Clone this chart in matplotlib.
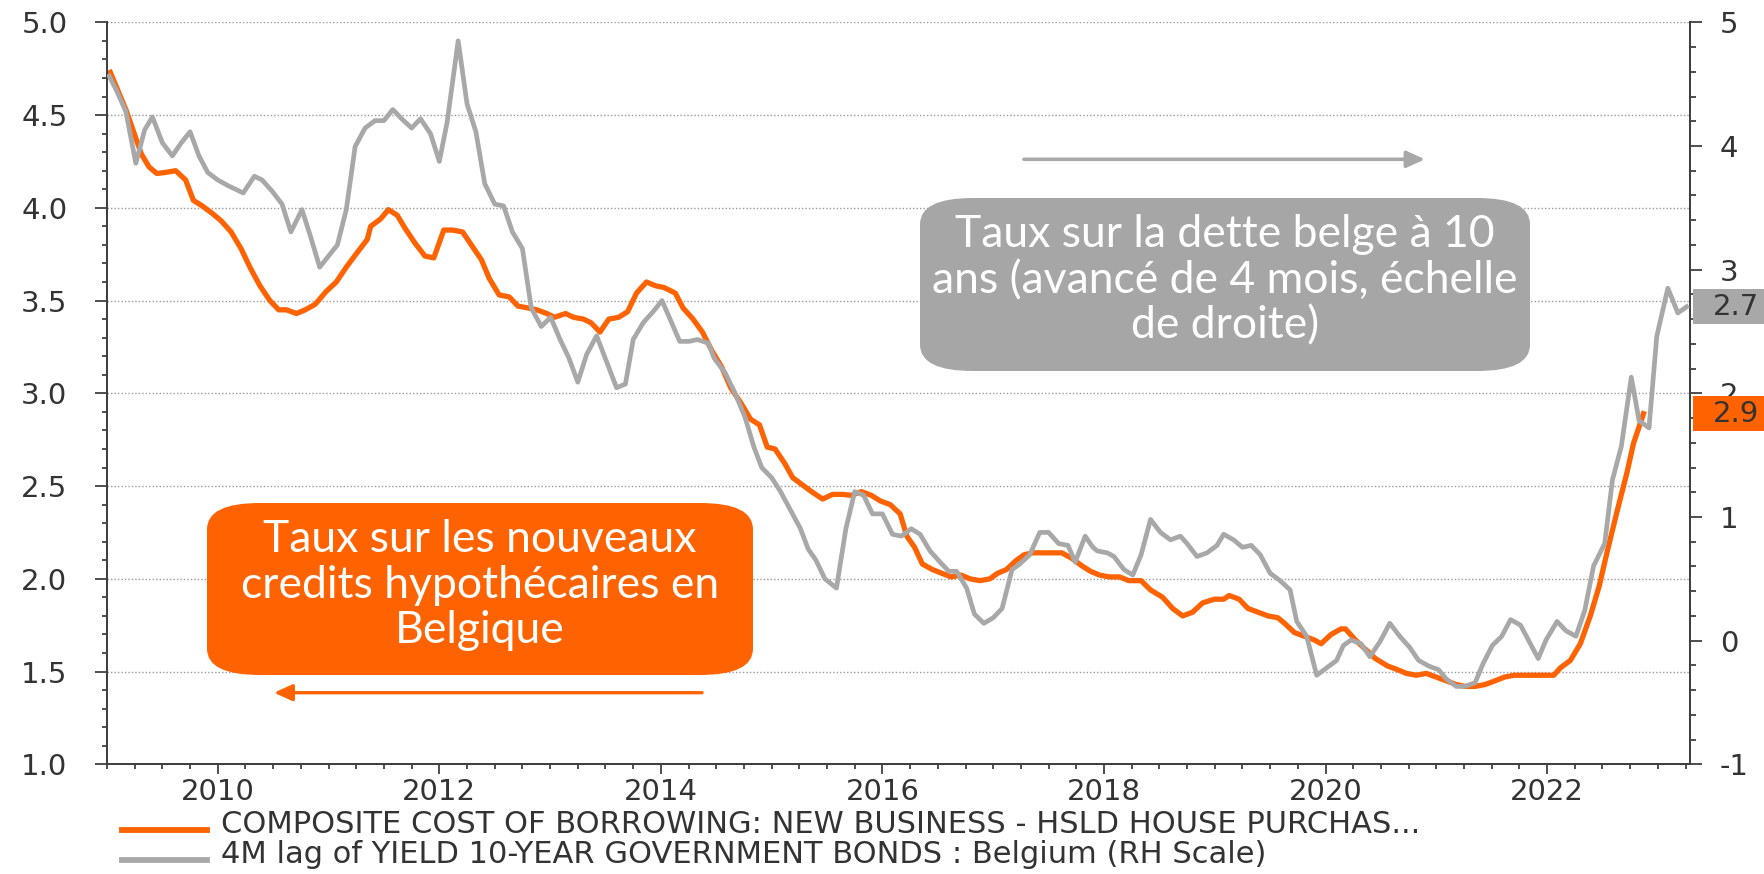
import matplotlib
matplotlib.use('Agg')
import matplotlib.pyplot as plt
import matplotlib.transforms as mtransforms
from matplotlib.patches import FancyBboxPatch, FancyArrowPatch, Rectangle
from matplotlib.lines import Line2D
from matplotlib.ticker import MultipleLocator, FormatStrFormatter

plt.rcParams['axes.unicode_minus'] = False
plt.rcParams['font.family'] = ['DejaVu Sans']

ORANGE = '#FF6200'
GRAY = '#A8A8A8'
TXT = '#333333'
AXC = '#404040'

# mortgage rate, new business (left scale), decimal years
orange_t = [2009.03, 2009.17, 2009.31, 2009.38, 2009.45, 2009.52, 2009.62, 2009.71, 2009.78, 2009.86,
            2009.95, 2010.03, 2010.12, 2010.21, 2010.29, 2010.38, 2010.47, 2010.55, 2010.62, 2010.71,
            2010.79, 2010.88, 2010.98, 2011.07, 2011.16, 2011.26, 2011.35, 2011.38, 2011.47, 2011.54,
            2011.62, 2011.69, 2011.78, 2011.87, 2011.95, 2012.04, 2012.12, 2012.21, 2012.30, 2012.38,
            2012.45, 2012.54, 2012.63, 2012.71, 2012.80, 2012.88, 2012.97, 2013.04, 2013.14, 2013.21,
            2013.30, 2013.37, 2013.45, 2013.53, 2013.62, 2013.70, 2013.78, 2013.87, 2013.95, 2014.03,
            2014.13, 2014.20, 2014.29, 2014.375, 2014.46, 2014.55, 2014.63, 2014.72, 2014.81, 2014.89,
            2014.96, 2015.03, 2015.12, 2015.19, 2015.27, 2015.36, 2015.46, 2015.55, 2015.64, 2015.72,
            2015.81, 2015.90, 2015.98, 2016.07, 2016.16, 2016.22, 2016.29, 2016.36, 2016.45, 2016.535,
            2016.62, 2016.71, 2016.79, 2016.88, 2016.97, 2017.04, 2017.12, 2017.21, 2017.28, 2017.36,
            2017.45, 2017.54, 2017.62, 2017.71, 2017.80, 2017.88, 2017.96, 2018.05, 2018.14, 2018.225,
            2018.335, 2018.42, 2018.53, 2018.62, 2018.71, 2018.80, 2018.89, 2018.995, 2019.08, 2019.13,
            2019.22, 2019.30, 2019.39, 2019.48, 2019.57, 2019.63, 2019.72, 2019.81, 2019.90, 2019.96,
            2020.05, 2020.14, 2020.18, 2020.27, 2020.36, 2020.45, 2020.56, 2020.65, 2020.73, 2020.82,
            2020.91, 2021.00, 2021.09, 2021.18, 2021.26, 2021.35, 2021.44, 2021.53, 2021.615, 2021.70,
            2021.79, 2021.88, 2021.97, 2022.06, 2022.12, 2022.21, 2022.30, 2022.39, 2022.47, 2022.54,
            2022.63, 2022.72, 2022.78, 2022.87]
orange_v = [4.73, 4.53, 4.29, 4.22, 4.185, 4.19, 4.20, 4.15, 4.04, 4.01,
            3.97, 3.93, 3.87, 3.78, 3.68, 3.58, 3.50, 3.45, 3.45, 3.43,
            3.45, 3.48, 3.55, 3.60, 3.68, 3.76, 3.83, 3.90, 3.94, 3.99,
            3.96, 3.89, 3.81, 3.74, 3.73, 3.88, 3.88, 3.87, 3.79, 3.72,
            3.62, 3.53, 3.52, 3.47, 3.46, 3.45, 3.43, 3.41, 3.43, 3.41,
            3.40, 3.38, 3.33, 3.40, 3.41, 3.44, 3.54, 3.60, 3.58, 3.57,
            3.54, 3.46, 3.40, 3.33, 3.23, 3.14, 3.03, 2.95, 2.86, 2.83,
            2.71, 2.70, 2.62, 2.545, 2.51, 2.47, 2.43, 2.455, 2.455, 2.45,
            2.47, 2.45, 2.42, 2.40, 2.35, 2.23, 2.17, 2.08, 2.05, 2.03,
            2.01, 2.02, 2.00, 1.99, 2.00, 2.03, 2.05, 2.10, 2.13, 2.14,
            2.14, 2.14, 2.14, 2.11, 2.07, 2.04, 2.02, 2.01, 2.01, 1.99,
            1.99, 1.94, 1.90, 1.84, 1.80, 1.82, 1.87, 1.89, 1.89, 1.91,
            1.89, 1.84, 1.82, 1.80, 1.79, 1.76, 1.71, 1.69, 1.67, 1.65,
            1.70, 1.73, 1.73, 1.67, 1.62, 1.57, 1.53, 1.51, 1.49, 1.48,
            1.49, 1.47, 1.45, 1.43, 1.42, 1.42, 1.43, 1.45, 1.47, 1.48,
            1.48, 1.48, 1.48, 1.48, 1.52, 1.56, 1.65, 1.80, 1.96, 2.14,
            2.36, 2.57, 2.73, 2.89]

# 10y Belgian yield, 4 months lead (right scale)
gray_t = [2009.02, 2009.08, 2009.17, 2009.26, 2009.34, 2009.41, 2009.50, 2009.59, 2009.67, 2009.75,
          2009.83, 2009.91, 2010.00, 2010.09, 2010.16, 2010.23, 2010.33, 2010.40, 2010.49, 2010.58,
          2010.66, 2010.76, 2010.84, 2010.92, 2011.00, 2011.08, 2011.16, 2011.24, 2011.33, 2011.42,
          2011.50, 2011.58, 2011.66, 2011.75, 2011.83, 2011.92, 2012.00, 2012.07, 2012.17, 2012.25,
          2012.33, 2012.41, 2012.50, 2012.58, 2012.66, 2012.75, 2012.83, 2012.92, 2013.005, 2013.09,
          2013.17, 2013.25, 2013.33, 2013.42, 2013.51, 2013.60, 2013.68, 2013.75, 2013.84, 2013.93,
          2014.01, 2014.09, 2014.17, 2014.255, 2014.33, 2014.43, 2014.48, 2014.58, 2014.67, 2014.76,
          2014.84, 2014.91, 2015.00, 2015.08, 2015.17, 2015.26, 2015.33, 2015.40, 2015.48, 2015.585,
          2015.67, 2015.75, 2015.83, 2015.91, 2016.00, 2016.09, 2016.17, 2016.26, 2016.34, 2016.43,
          2016.52, 2016.60, 2016.67, 2016.76, 2016.83, 2016.915, 2017.00, 2017.08, 2017.17, 2017.24,
          2017.33, 2017.42, 2017.50, 2017.59, 2017.675, 2017.74, 2017.83, 2017.90, 2017.94, 2018.03,
          2018.09, 2018.18, 2018.26, 2018.335, 2018.42, 2018.51, 2018.60, 2018.69, 2018.75, 2018.84,
          2018.93, 2019.02, 2019.08, 2019.17, 2019.25, 2019.33, 2019.41, 2019.50, 2019.59, 2019.68,
          2019.74, 2019.83, 2019.92, 2020.01, 2020.10, 2020.16, 2020.23, 2020.32, 2020.40, 2020.49,
          2020.58, 2020.67, 2020.76, 2020.84, 2020.93, 2021.02, 2021.09, 2021.18, 2021.26, 2021.35,
          2021.42, 2021.505, 2021.59, 2021.67, 2021.76, 2021.84, 2021.92, 2021.99, 2022.09, 2022.17,
          2022.26, 2022.34, 2022.42, 2022.52, 2022.59, 2022.67, 2022.76, 2022.83, 2022.92, 2022.99,
          2023.09, 2023.18, 2023.26]
gray_v = [4.565, 4.46, 4.28, 3.86, 4.13, 4.235, 4.025, 3.92, 4.025, 4.115,
          3.92, 3.785, 3.725, 3.68, 3.65, 3.62, 3.755, 3.725, 3.635, 3.53,
          3.305, 3.485, 3.26, 3.02, 3.11, 3.20, 3.485, 3.995, 4.145, 4.205,
          4.205, 4.295, 4.22, 4.145, 4.22, 4.10, 3.875, 4.19, 4.85, 4.34,
          4.115, 3.695, 3.53, 3.515, 3.305, 3.17, 2.69, 2.54, 2.615, 2.435,
          2.285, 2.09, 2.315, 2.465, 2.255, 2.045, 2.075, 2.435, 2.57, 2.66,
          2.75, 2.585, 2.42, 2.42, 2.435, 2.405, 2.285, 2.165, 2.00, 1.805,
          1.565, 1.40, 1.3175, 1.205, 1.055, 0.905, 0.74, 0.65, 0.50, 0.425,
          0.905, 1.205, 1.175, 1.025, 1.025, 0.86, 0.845, 0.905, 0.86, 0.725,
          0.635, 0.56, 0.56, 0.425, 0.215, 0.14, 0.185, 0.26, 0.575, 0.62,
          0.695, 0.875, 0.875, 0.785, 0.77, 0.635, 0.845, 0.755, 0.725, 0.71,
          0.68, 0.575, 0.53, 0.695, 0.98, 0.875, 0.815, 0.845, 0.785, 0.68,
          0.71, 0.77, 0.86, 0.815, 0.755, 0.77, 0.695, 0.545, 0.485, 0.41,
          0.155, 0.035, -0.28, -0.22, -0.16, -0.04, 0.005, -0.025, -0.13, -0.01,
          0.14, 0.035, -0.055, -0.16, -0.205, -0.235, -0.31, -0.37, -0.37, -0.34,
          -0.19, -0.04, 0.035, 0.17, 0.125, -0.01, -0.145, 0.005, 0.155, 0.08,
          0.035, 0.245, 0.605, 0.785, 1.30, 1.57, 2.13, 1.78, 1.72, 2.46,
          2.85, 2.65, 2.70]

year_ticks = [2010, 2012, 2014, 2016, 2018, 2020, 2022]
label_orange = 'COMPOSITE COST OF BORROWING: NEW BUSINESS - HSLD HOUSE PURCHAS...'
label_gray = '4M lag of YIELD 10-YEAR GOVERNMENT BONDS : Belgium (RH Scale)'

W, H = 1765, 874
fig = plt.figure(figsize=(W / 100, H / 100), dpi=100)
fig.patch.set_facecolor('white')

def fx(px):
    return px / W

def fy(py):
    return 1 - py / H

ax = fig.add_axes([fx(107), fy(764.3), fx(1690) - fx(107), fy(22.3) - fy(764.3)])
ax2 = ax.twinx()

l1, = ax.plot(orange_t, orange_v, color=ORANGE, lw=3.8, solid_joinstyle='round', zorder=3)
l2, = ax2.plot(gray_t, gray_v, color=GRAY, lw=3.4, solid_joinstyle='round', zorder=3)

ax.set_xlim(2009.0, 2023.29)
ax.set_ylim(1.0, 5.0)
ax2.set_ylim(-1, 5)

ax.set_xticks(year_ticks)
ax.xaxis.set_minor_locator(MultipleLocator(0.25))
ax.yaxis.set_major_locator(MultipleLocator(0.5))
ax.yaxis.set_minor_locator(MultipleLocator(0.1))
ax.yaxis.set_major_formatter(FormatStrFormatter('%.1f'))
ax2.yaxis.set_major_locator(MultipleLocator(1))
ax2.yaxis.set_minor_locator(MultipleLocator(0.2))

ax.yaxis.grid(True, which='major', color='#9a9a9a', linestyle=(0, (1, 1.5)), linewidth=1.0)
ax.set_axisbelow(True)

for a in (ax, ax2):
    for s in a.spines.values():
        s.set_color(AXC)
        s.set_linewidth(1.4)
    a.spines['top'].set_visible(False)

ax.tick_params(axis='x', which='major', length=7, width=1.3, color=AXC, labelsize=21,
               labelcolor=TXT, pad=3)
ax.tick_params(axis='x', which='minor', length=3.5, width=1.3, color=AXC)
ax.tick_params(axis='y', which='major', length=8.5, width=1.3, color=AXC, labelsize=21,
               labelcolor=TXT, pad=20)
ax.tick_params(axis='y', which='minor', length=3.8, width=1.3, color=AXC)
ax2.tick_params(axis='y', which='major', length=8.5, width=1.3, color=AXC, labelsize=21,
                labelcolor=TXT, pad=13)
ax2.tick_params(axis='y', which='minor', length=4.5, width=1.3, color=AXC)

# last-value tags on the right side (35 px tall, starting at the spine)
tag_px = 35
ax_h_px = 764.3 - 22.3
tr1 = mtransforms.blended_transform_factory(ax.transAxes, ax.transData)
tr2 = mtransforms.blended_transform_factory(ax2.transAxes, ax2.transData)
h1 = tag_px * (5.0 - 1.0) / ax_h_px
h2 = tag_px * (5 - (-1)) / ax_h_px
ax2.add_patch(Rectangle((1.002, orange_v[-1] - h1 / 2), 0.1, h1, transform=tr1,
                        fc=ORANGE, ec='none', clip_on=False, zorder=6))
ax2.add_patch(Rectangle((1.002, gray_v[-1] - h2 / 2), 0.1, h2, transform=tr2,
                        fc=GRAY, ec='none', clip_on=False, zorder=6))
ax2.text(1.0145, orange_v[-1], f'{orange_v[-1]:.1f}', transform=tr1, fontsize=21, color=TXT,
         va='center', ha='left', clip_on=False, zorder=7)
ax2.text(1.0145, gray_v[-1], f'{gray_v[-1]:.1f}', transform=tr2, fontsize=21, color=TXT,
         va='center', ha='left', clip_on=False, zorder=7)

# annotation boxes
box_font = ['Lato', 'DejaVu Sans']
ob = FancyBboxPatch((fx(207), fy(675)), fx(753) - fx(207), fy(503) - fy(675),
                    boxstyle='round,pad=0,rounding_size=0.03', transform=fig.transFigure,
                    fc=ORANGE, ec='none', zorder=4)
fig.patches.append(ob)
for txt, py in zip(['Taux sur les nouveaux', 'credits hypothécaires en', 'Belgique'],
                   [552, 598, 643]):
    fig.text(fx(480), fy(py), txt, color='white', fontsize=32, family=box_font,
             ha='center', va='baseline', zorder=5)

gb = FancyBboxPatch((fx(920), fy(371)), fx(1530) - fx(920), fy(198) - fy(371),
                    boxstyle='round,pad=0,rounding_size=0.03', transform=fig.transFigure,
                    fc='#A6A6A6', ec='none', zorder=4)
fig.patches.append(gb)
for txt, py in zip(['Taux sur la dette belge à 10', 'ans (avancé de 4 mois, échelle', 'de droite)'],
                   [247, 293, 338]):
    fig.text(fx(1225), fy(py), txt, color='white', fontsize=32, family=box_font,
             ha='center', va='baseline', zorder=5)

# direction arrows
fig.patches.append(FancyArrowPatch((fx(1024), fy(159.3)), (fx(1425), fy(159.3)),
                                   transform=fig.transFigure, arrowstyle='-|>,head_length=1.1,head_width=0.5',
                                   mutation_scale=10, color=GRAY, lw=2.6, shrinkA=0, shrinkB=0))
fig.patches.append(FancyArrowPatch((fx(702), fy(692.7)), (fx(274), fy(692.7)),
                                   transform=fig.transFigure, arrowstyle='-|>,head_length=1.1,head_width=0.5',
                                   mutation_scale=10, color=ORANGE, lw=2.4, shrinkA=0, shrinkB=0))

# legend rows under the plot (baseline placed, so descenders stay inside the figure)
for lbl, col, base in [(label_orange, ORANGE, 833), (label_gray, GRAY, 863)]:
    fig.add_artist(Line2D([fx(122), fx(207)], [fy(base - 3), fy(base - 3)], color=col, lw=4.2,
                          transform=fig.transFigure))
    fig.text(fx(221), fy(base), lbl, fontsize=22, color=TXT, ha='left', va='baseline')

fig.savefig('out.png', dpi=100, facecolor='white')
